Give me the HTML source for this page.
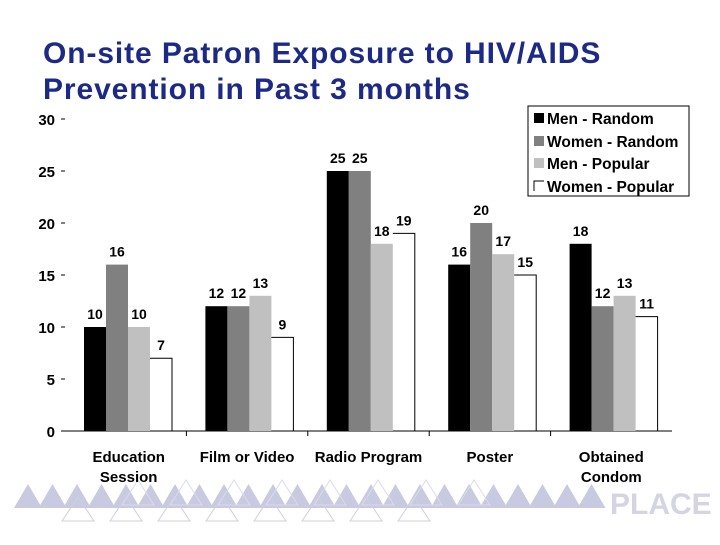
<!DOCTYPE html>
<html><head><meta charset="utf-8"><style>
body{margin:0;background:#fff;width:720px;height:540px;overflow:hidden;font-family:"Liberation Sans",sans-serif}
</style></head><body>
<svg width="720" height="540" xmlns="http://www.w3.org/2000/svg">
<g id="wm"></g>
<text x="43" y="63" fill="#1c2a86" font-size="30" font-weight="bold" letter-spacing="0.9">On-site Patron Exposure to HIV/AIDS</text>
<text x="43" y="99" fill="#1c2a86" font-size="30" font-weight="bold" letter-spacing="0.9">Prevention in Past 3 months</text>
<g id="axes"></g><g id="bars"></g>
<g>
<rect x="528" y="106" width="161" height="90" fill="#fff" stroke="#000"/>
<rect x="534" y="113" width="10" height="10" fill="#000"/><text x="547" y="124" font-size="15.5" font-weight="bold">Men - Random</text>
<rect x="534" y="136" width="10" height="10" fill="#808080"/><text x="547" y="147" font-size="15.5" font-weight="bold">Women - Random</text>
<rect x="534" y="158" width="10" height="10" fill="#c0c0c0"/><text x="547" y="169" font-size="15.5" font-weight="bold">Men - Popular</text>
<path d="M534 191V181H544" fill="none" stroke="#000"/><text x="547" y="192" font-size="15.5" font-weight="bold">Women - Popular</text>
</g>
<text x="610" y="514" font-size="30" font-weight="bold" fill="#d4d4e2">PLACE</text>
</svg>
<script>
const categories=[["Education","Session"],["Film or Video"],["Radio Program"],["Poster"],["Obtained","Condom"]];
const menRandom=[10,12,25,16,18];
const womenRandom=[16,12,25,20,12];
const menPopular=[10,13,18,17,13];
const womenPopular=[7,9,19,15,11];
const yTicks=[0,5,10,15,20,25,30];
const NS="http://www.w3.org/2000/svg";
const x0=65,x1=672,y0=431,ppu=10.4,gw=(x1-x0)/5,bw=22;
const Y=v=>y0-v*ppu;
function mk(t,a,p){const e=document.createElementNS(NS,t);for(const k in a)e.setAttribute(k,a[k]);p.appendChild(e);return e;}
const ax=document.getElementById('axes'),bars=document.getElementById('bars');
const xl=mk('line',{x1:x0,x2:x1,y1:y0,y2:y0,stroke:'#000'},ax);


yTicks.forEach(v=>{
 mk('line',{x1:x0-4,x2:x0,y1:Y(v),y2:Y(v),stroke:'#000'},ax);
 const t=mk('text',{x:55,y:Y(v)+6,'text-anchor':'end','font-size':15,'font-weight':'bold'},ax);
 t.textContent=v;
 
 
});
for(let i=1;i<5;i++)mk('line',{x1:x0+gw*i,x2:x0+gw*i,y1:y0,y2:y0+5,stroke:'#000'},ax);
categories.forEach((c,i)=>{
 c.forEach((l,j)=>{const t=mk('text',{x:x0+gw*i+gw/2+(i==0?3:0),y:462+j*20,'text-anchor':'middle','font-size':15,'font-weight':'bold'},ax);t.textContent=l;
 
 });
});
const series=[[menRandom,'#000'],[womenRandom,'#808080'],[menPopular,'#c0c0c0'],[womenPopular,'#fff']];
series.forEach(([vals,col],s)=>{
 vals.forEach((v,i)=>{
  const bx=x0+gw*i+19+s*bw;
  const r=mk('rect',{x:bx,y:Y(v),width:bw,height:v*ppu,fill:col},bars);
  if(s==3){r.setAttribute('fill','none');mk('path',{d:`M${bx} ${Y(v)}H${bx+bw}V${y0}`,fill:'none',stroke:'#000'},bars);}
  
  
  const t=mk('text',{x:bx+bw/2,y:Y(v)-8,'text-anchor':'middle','font-size':14,'font-weight':'bold'},bars);
  t.textContent=v;
  
  
 });
});
const wm=document.getElementById('wm');
for(let k=0;k<24;k++){const x=14+k*24.5;mk('polygon',{points:`${x},508 ${x+14},484 ${x+28},508`,fill:'#c9c9e1'},wm);}
for(let k=0;k<8;k++){const x=62+k*48;mk('polygon',{points:`${x},521 ${x+16},497 ${x+32},521`,fill:'none',stroke:'#cfcfdf'},wm);
 mk('polygon',{points:`${x+60},505 ${x+76},480 ${x+92},505`,fill:'none',stroke:'#dcdce8'},wm);}
</script>
</body></html>
